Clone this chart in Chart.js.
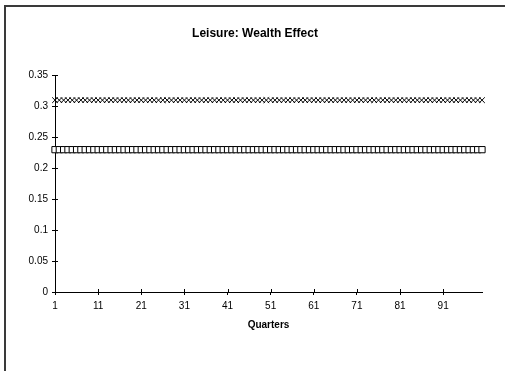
<!DOCTYPE html>
<html>
<head>
<meta charset="utf-8">
<script src="https://cdn.jsdelivr.net/npm/chart.js@4/dist/chart.umd.min.js"></script>
<style>
  html, body { margin: 0; padding: 0; background: #fff; }
  #wrap { position: relative; width: 505px; height: 371px; overflow: hidden; }
  #frame { position: absolute; left: 4px; top: 5px; width: 600px; height: 500px;
           border-left: 2px solid #3a3a3a; border-top: 2px solid #3a3a3a; pointer-events: none; }
  canvas { position: absolute; left: 0; top: 0; }
</style>
</head>
<body>
<div id="wrap">
  <canvas id="chart" width="505" height="371"></canvas>
  <div id="frame"></div>
</div>
<script>
// Quarters on the horizontal axis
const quarters = [
  1, 2, 3, 4, 5, 6, 7, 8, 9, 10,
  11, 12, 13, 14, 15, 16, 17, 18, 19, 20,
  21, 22, 23, 24, 25, 26, 27, 28, 29, 30,
  31, 32, 33, 34, 35, 36, 37, 38, 39, 40,
  41, 42, 43, 44, 45, 46, 47, 48, 49, 50,
  51, 52, 53, 54, 55, 56, 57, 58, 59, 60,
  61, 62, 63, 64, 65, 66, 67, 68, 69, 70,
  71, 72, 73, 74, 75, 76, 77, 78, 79, 80,
  81, 82, 83, 84, 85, 86, 87, 88, 89, 90,
  91, 92, 93, 94, 95, 96, 97, 98, 99, 100
];

// Leisure path drawn with x markers
const leisureHigh = [
  0.31, 0.31, 0.31, 0.31, 0.31, 0.31, 0.31, 0.31, 0.31, 0.31,
  0.31, 0.31, 0.31, 0.31, 0.31, 0.31, 0.31, 0.31, 0.31, 0.31,
  0.31, 0.31, 0.31, 0.31, 0.31, 0.31, 0.31, 0.31, 0.31, 0.31,
  0.31, 0.31, 0.31, 0.31, 0.31, 0.31, 0.31, 0.31, 0.31, 0.31,
  0.31, 0.31, 0.31, 0.31, 0.31, 0.31, 0.31, 0.31, 0.31, 0.31,
  0.31, 0.31, 0.31, 0.31, 0.31, 0.31, 0.31, 0.31, 0.31, 0.31,
  0.31, 0.31, 0.31, 0.31, 0.31, 0.31, 0.31, 0.31, 0.31, 0.31,
  0.31, 0.31, 0.31, 0.31, 0.31, 0.31, 0.31, 0.31, 0.31, 0.31,
  0.31, 0.31, 0.31, 0.31, 0.31, 0.31, 0.31, 0.31, 0.31, 0.31,
  0.31, 0.31, 0.31, 0.31, 0.31, 0.31, 0.31, 0.31, 0.31, 0.31
];

// Leisure path drawn with open squares
const leisureLow = [
  0.23, 0.23, 0.23, 0.23, 0.23, 0.23, 0.23, 0.23, 0.23, 0.23,
  0.23, 0.23, 0.23, 0.23, 0.23, 0.23, 0.23, 0.23, 0.23, 0.23,
  0.23, 0.23, 0.23, 0.23, 0.23, 0.23, 0.23, 0.23, 0.23, 0.23,
  0.23, 0.23, 0.23, 0.23, 0.23, 0.23, 0.23, 0.23, 0.23, 0.23,
  0.23, 0.23, 0.23, 0.23, 0.23, 0.23, 0.23, 0.23, 0.23, 0.23,
  0.23, 0.23, 0.23, 0.23, 0.23, 0.23, 0.23, 0.23, 0.23, 0.23,
  0.23, 0.23, 0.23, 0.23, 0.23, 0.23, 0.23, 0.23, 0.23, 0.23,
  0.23, 0.23, 0.23, 0.23, 0.23, 0.23, 0.23, 0.23, 0.23, 0.23,
  0.23, 0.23, 0.23, 0.23, 0.23, 0.23, 0.23, 0.23, 0.23, 0.23,
  0.23, 0.23, 0.23, 0.23, 0.23, 0.23, 0.23, 0.23, 0.23, 0.23
];

// Y axis range and step
const yMin = 0;
const yMax = 0.35;
const yStep = 0.05;
// Every tenth quarter gets a label and a tick mark
const xLabelEvery = 10;

const FONT = "'Liberation Sans', Arial, sans-serif";

// Tick marks that cross the axis line: draw the inner half on top of the outer half
const crossTicks = {
  id: 'crossTicks',
  afterDatasetsDraw(chart) {
    const { ctx, chartArea } = chart;
    const len = 3;
    ctx.save();
    ctx.strokeStyle = '#000';
    ctx.lineWidth = 1;
    ctx.beginPath();
    const xs = chart.scales.x;
    xs.ticks.forEach((t, i) => {
      if (t.label === null || t.label === undefined || t.label === '') return;
      const px = Math.round(xs.getPixelForTick(i)) + 0.5;
      ctx.moveTo(px, chartArea.bottom - len);
      ctx.lineTo(px, chartArea.bottom);
    });
    const ys = chart.scales.y;
    ys.ticks.forEach((t, i) => {
      const py = Math.round(ys.getPixelForTick(i)) + 0.5;
      ctx.moveTo(chartArea.left, py);
      ctx.lineTo(chartArea.left + len, py);
    });
    ctx.stroke();
    ctx.restore();
  }
};

new Chart(document.getElementById('chart'), {
  type: 'line',
  data: {
    labels: quarters,
    datasets: [
      {
        data: leisureLow,
        showLine: false,
        pointStyle: 'rect',
        pointRadius: 4.4,
        pointBackgroundColor: '#fff',
        pointBorderColor: '#000',
        pointBorderWidth: 1,
        clip: false
      },
      {
        data: leisureHigh,
        showLine: false,
        pointStyle: 'crossRot',
        pointRadius: 4,
        pointBorderColor: '#000',
        pointBackgroundColor: '#000',
        pointBorderWidth: 1,
        clip: false
      }
    ]
  },
  options: {
    responsive: false,
    animation: false,
    devicePixelRatio: 1,
    layout: { padding: { left: 28, right: 23, top: 0, bottom: 0 } },
    plugins: {
      legend: { display: false },
      tooltip: { enabled: false },
      title: {
        display: true,
        text: 'Leisure: Wealth Effect',
        color: '#000',
        font: { family: FONT, size: 12, weight: 'bold' },
        padding: { top: 26, bottom: 35 }
      }
    },
    scales: {
      x: {
        type: 'category',
        offset: false,
        border: { display: true, color: '#000', width: 1 },
        grid: { display: true, drawOnChartArea: false, drawTicks: true, tickLength: 3, color: '#000' },
        ticks: {
          autoSkip: false,
          maxRotation: 0,
          padding: 5,
          color: '#000',
          font: { family: FONT, size: 10 },
          callback(value, index) {
            return index % xLabelEvery === 0 ? this.getLabelForValue(value) : null;
          }
        },
        title: {
          display: true,
          text: 'Quarters',
          color: '#000',
          font: { family: FONT, size: 10, weight: 'bold' },
          padding: { top: 0, bottom: 40 }
        },
        afterFit(scale) { scale.height = 79; }
      },
      y: {
        min: yMin,
        max: yMax,
        border: { display: true, color: '#000', width: 1 },
        grid: { display: true, drawOnChartArea: false, drawTicks: true, tickLength: 3, color: '#000' },
        ticks: {
          stepSize: yStep,
          padding: 4,
          color: '#000',
          font: { family: FONT, size: 10 },
          callback(value) { return String(Number(value.toFixed(2))); }
        },
        afterFit(scale) { scale.width = 27; }
      }
    }
  },
  plugins: [crossTicks]
});
</script>
</body>
</html>
